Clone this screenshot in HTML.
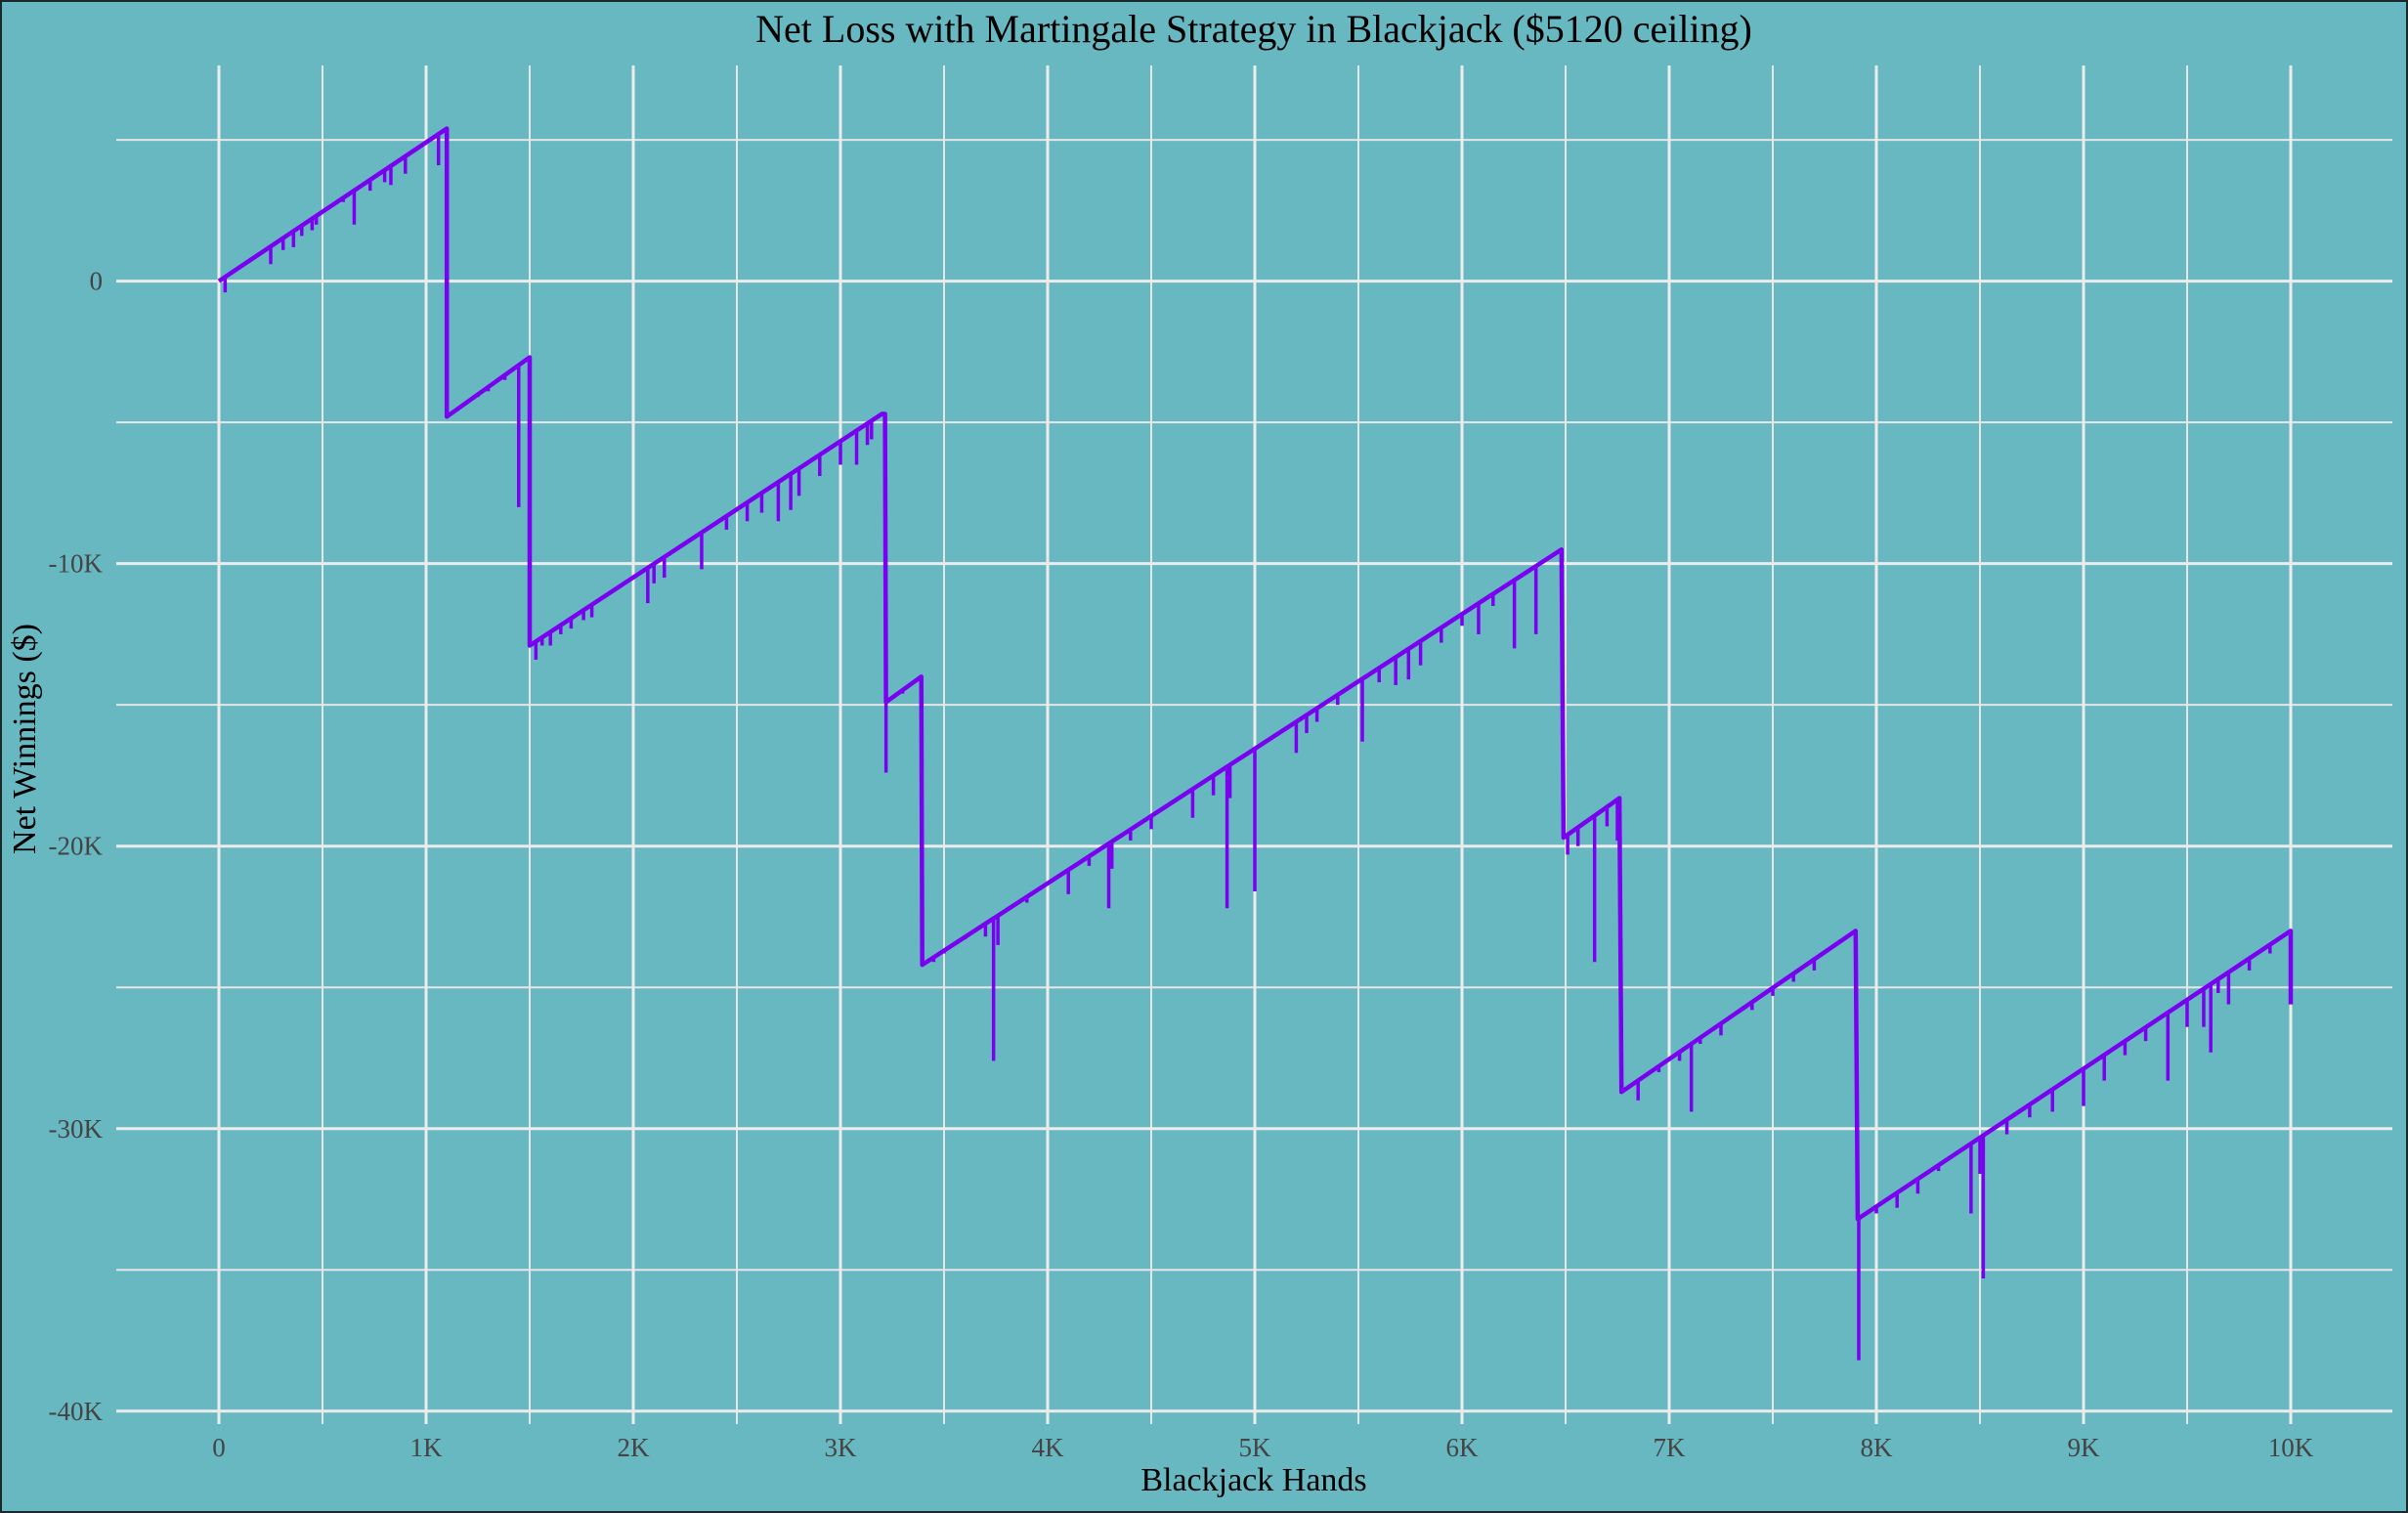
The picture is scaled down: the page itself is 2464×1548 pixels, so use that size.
<!DOCTYPE html>
<html><head><meta charset="utf-8"><style>
html,body{margin:0;padding:0;}
body{width:2464px;height:1548px;overflow:hidden;background:#68b8c1;}
svg{display:block;}
text{font-family:"Liberation Serif",serif;}
</style></head><body>
<svg id="chart" width="2464" height="1548" xmlns="http://www.w3.org/2000/svg">
<rect x="1" y="1" width="2462" height="1546" fill="#68b8c1" stroke="#1a2a2a" stroke-width="2"/>
<g id="grid"></g>
<g id="series"></g>
<g id="axes"></g>
<text x="1283" y="43" text-anchor="middle" font-size="40" fill="#000">Net Loss with Martingale Strategy in Blackjack ($5120 ceiling)</text>
<text x="1283" y="1525" text-anchor="middle" font-size="34" fill="#000">Blackjack Hands</text>
<text transform="translate(36,756) rotate(-90)" text-anchor="middle" font-size="34" fill="#000">Net Winnings ($)</text>
</svg>
<script>
const mainHands = [0,1100,1100,1500,1500,3200,3215,3220,3390,3395,6480,6490,6760,6770,7900,7910,10000,10000];
const mainValues = [0,5400,-4800,-2700,-12900,-4700,-4700,-14900,-14000,-24200,-9500,-19700,-18300,-28700,-23000,-33200,-23000,-25600];
const spikeHands = [30,250,310,360,400,450,470,600,653,730,800,830,900,1060,1200,1250,1300,1380,1447,1530,1560,1600,1650,1700,1760,1800,2070,2100,2150,2330,2450,2550,2620,2700,2760,2800,2900,3000,3078,3130,3150,3220,3300,3450,3500,3600,3700,3739,3760,3900,4000,4100,4200,4295,4310,4400,4500,4700,4800,4866,4880,5000,5200,5250,5300,5400,5519,5600,5680,5742,5800,5900,6000,6080,6150,6253,6357,6510,6560,6640,6700,6750,6850,6950,7050,7107,7150,7250,7400,7500,7600,7700,7915,8000,8100,8200,8300,8457,8500,8516,8630,8740,8850,9000,9100,9200,9300,9407,9500,9580,9614,9650,9700,9800,9900];
const spikeValues = [-400,600,1100,1200,1600,1800,2000,2800,2000,3200,3500,3400,3800,4100,-4300,-4100,-3900,-3500,-8000,-13400,-12900,-12900,-12500,-12300,-12000,-11900,-11400,-10700,-10500,-10200,-8800,-8500,-8200,-8500,-8100,-7600,-6900,-6500,-6500,-5800,-5600,-17400,-14600,-24100,-23800,-23300,-23200,-27600,-23500,-22000,-21300,-21700,-20700,-22200,-20800,-19800,-19400,-19000,-18200,-22200,-18300,-21600,-16700,-16000,-15600,-15000,-16300,-14200,-14300,-14100,-13600,-12800,-12200,-12500,-11500,-13000,-12500,-20300,-20000,-24100,-19300,-19800,-29000,-28000,-27600,-29400,-27000,-26700,-25800,-25300,-24800,-24400,-38200,-33000,-32800,-32300,-31500,-33000,-31600,-35300,-30200,-29600,-29400,-29200,-28300,-27400,-26900,-28300,-26400,-26400,-27300,-25200,-25600,-24400,-23800];
const xTickValues = [0,1000,2000,3000,4000,5000,6000,7000,8000,9000,10000];
const xTickLabels = ["0","1K","2K","3K","4K","5K","6K","7K","8K","9K","10K"];
const yTickValues = [0,-10000,-20000,-30000,-40000];
const yTickLabels = ["0","-10K","-20K","-30K","-40K"];

const NS="http://www.w3.org/2000/svg";
function xs(h){return 224 + h*0.2120;}
function ys(v){return 287.6 - v*0.028905;}
function mk(tag,attrs,parent){const e=document.createElementNS(NS,tag);for(const k in attrs)e.setAttribute(k,attrs[k]);parent.appendChild(e);return e;}
function mainAt(h){for(let i=0;i<mainHands.length-1;i++){const a=mainHands[i],b=mainHands[i+1];if(h>=a&&h<=b&&b>a){return mainValues[i]+(mainValues[i+1]-mainValues[i])*(h-a)/(b-a);}}return mainValues[mainValues.length-1];}

const grid=document.getElementById('grid');
const L=119,R=2448,T=67,B=1457;
for(let v=5000;v>=-35000;v-=10000){
  const g=mk('line',{x1:L,x2:R,y1:ys(v),y2:ys(v),stroke:'#e6e6e6','stroke-width':2},grid);
  
  
}
for(let h=500;h<=9500;h+=1000){
  const g=mk('line',{x1:xs(h),x2:xs(h),y1:T,y2:B,stroke:'#e6e6e6','stroke-width':2},grid);
  
  
}
yTickValues.forEach((v,i)=>{
  const g=mk('line',{x1:L,x2:R,y1:ys(v),y2:ys(v),stroke:'#ececec','stroke-width':3},grid);
  
  
  const t=mk('text',{x:105,y:ys(v)+9,'text-anchor':'end','font-size':27,fill:'#444'},document.getElementById('axes'));
  t.textContent=yTickLabels[i];
  
  
});
xTickValues.forEach((h,i)=>{
  const g=mk('line',{x1:xs(h),x2:xs(h),y1:T,y2:B,stroke:'#ececec','stroke-width':3},grid);
  
  
  const t=mk('text',{x:xs(h),y:1490,'text-anchor':'middle','font-size':27,fill:'#444'},document.getElementById('axes'));
  t.textContent=xTickLabels[i];
  
  
});

const series=document.getElementById('series');
spikeHands.forEach((h,i)=>{
  const s=mk('line',{x1:xs(h),x2:xs(h),y1:ys(mainAt(h)),y2:ys(spikeValues[i]),stroke:'#7a00f0','stroke-width':3.5},series);
  
  
});
const pts=mainHands.map((h,i)=>xs(h).toFixed(1)+','+ys(mainValues[i]).toFixed(1)).join(' ');
const pl=mk('polyline',{points:pts,fill:'none',stroke:'#7a00f0','stroke-width':4.5,'stroke-linejoin':'round'},series);


</script>
</body></html>
